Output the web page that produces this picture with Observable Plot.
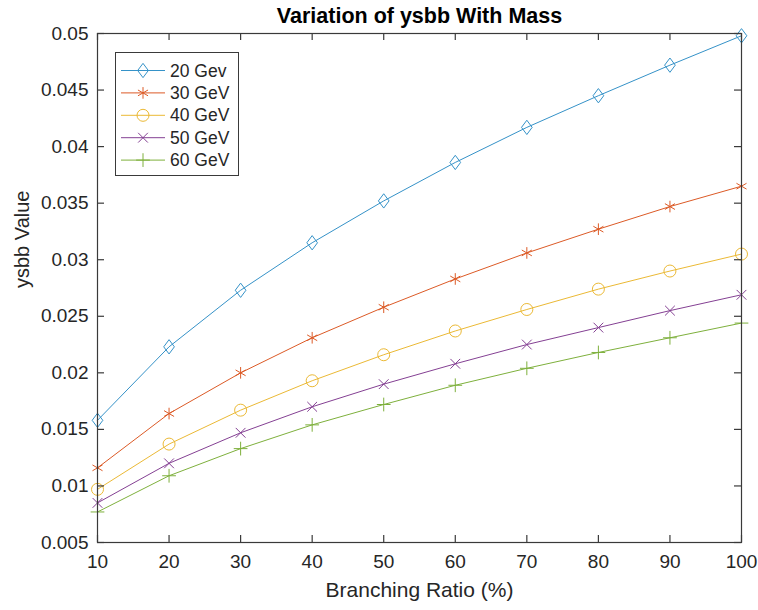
<!DOCTYPE html>
<html><head><meta charset="utf-8">
<script src="https://cdn.jsdelivr.net/npm/d3@7"></script>
<script src="https://cdn.jsdelivr.net/npm/@observablehq/plot@0.6"></script>
<style>
body{margin:0;background:#fff;}
#wrap{position:relative;width:758px;height:610px;font-family:"Liberation Sans",Arial,sans-serif;}
#legend{position:absolute;left:0;top:0;}
</style></head><body><div id="wrap"></div>
<script>
// ---- data ----
const branchingRatio = [10, 20, 30, 40, 50, 60, 70, 80, 90, 100];
const seriesNames = ["20 Gev", "30 GeV", "40 GeV", "50 GeV", "60 GeV"];
const ysbb20 = [0.0158, 0.0223, 0.0273, 0.0315, 0.0352, 0.0386, 0.0417, 0.0445, 0.0472, 0.0498];
const ysbb30 = [0.0116, 0.0164, 0.0200, 0.0231, 0.0258, 0.0283, 0.0306, 0.0327, 0.0347, 0.0365];
const ysbb40 = [0.0097, 0.0137, 0.0167, 0.0193, 0.0216, 0.0237, 0.0256, 0.0274, 0.0290, 0.0305];
const ysbb50 = [0.0085, 0.0120, 0.0147, 0.0170, 0.0190, 0.0208, 0.0225, 0.0240, 0.0255, 0.0269];
const ysbb60 = [0.0077, 0.0109, 0.0133, 0.0154, 0.0172, 0.0189, 0.0204, 0.0218, 0.0231, 0.0244];
const xTicks = [10, 20, 30, 40, 50, 60, 70, 80, 90, 100];
const yTicks = [0.005, 0.01, 0.015, 0.02, 0.025, 0.03, 0.035, 0.04, 0.045, 0.05];
const titleText = "Variation of ysbb With Mass";
const xLabel = "Branching Ratio (%)";
const yLabel = "ysbb Value";

// ---- style ----
const colors = ["#3592c8", "#dc5a26", "#ebb935", "#844093", "#7eb03c"];
const diamondSym = {
  draw(ctx, size) {
    const r = Math.sqrt(size / Math.PI);
    const w = r * 0.82, h = r * 1.1;
    ctx.moveTo(0, -h); ctx.lineTo(w, 0); ctx.lineTo(0, h); ctx.lineTo(-w, 0); ctx.closePath();
  }
};
const symbols = [diamondSym, "asterisk", "circle", "times", "plus"];
const symR = [6.5, 5.5, 6, 4.5, 4.5];
const allSeries = [ysbb20, ysbb30, ysbb40, ysbb50, ysbb60];

const W = 758, H = 610, mL = 97, mR = 17, mT = 33, mB = 68;
const pW = W - mL - mR, pH = H - mT - mB;
const tickLen = 7;
const font = "Liberation Sans, Arial, sans-serif";

const marks = [];
allSeries.forEach((vals, i) => {
  const data = branchingRatio.map((x, j) => ({x, y: vals[j]}));
  marks.push(Plot.line(data, {x: "x", y: "y", stroke: colors[i], strokeWidth: 1}));
  marks.push(Plot.dot(data, {x: "x", y: "y", stroke: colors[i], fill: "none", symbol: symbols[i], r: symR[i], strokeWidth: 1}));
});

const chart = Plot.plot({
  width: W, height: H,
  marginLeft: mL, marginRight: mR, marginTop: mT, marginBottom: mB,
  style: {fontFamily: font, background: "#fff", color: "#262626"},
  x: {domain: [10, 100], label: null},
  y: {domain: [0.005, 0.05], label: null},
  marks: [
    ...marks,
    Plot.frame({stroke: "#3a3a3a", strokeWidth: 1.2}),
    Plot.tickX(xTicks, {x: d => d, insetTop: pH - tickLen, stroke: "#3a3a3a", strokeWidth: 1.2}),
    Plot.tickX(xTicks, {x: d => d, insetBottom: pH - tickLen, stroke: "#3a3a3a", strokeWidth: 1.2}),
    Plot.tickY(yTicks, {y: d => d, insetRight: pW - tickLen, stroke: "#3a3a3a", strokeWidth: 1.2}),
    Plot.tickY(yTicks, {y: d => d, insetLeft: pW - tickLen, stroke: "#3a3a3a", strokeWidth: 1.2}),
    Plot.axisX(xTicks, {tickSize: 0, tickPadding: 12, fontSize: 19, label: null, fill: "#262626"}),
    Plot.axisY(yTicks, {tickSize: 0, tickPadding: 9, fontSize: 19, label: null, fill: "#262626", tickFormat: d3.format("~g")}),
    Plot.text([xLabel], {frameAnchor: "bottom", dy: 48, fontSize: 21, fill: "#262626", lineAnchor: "middle"}),
    Plot.text([yLabel], {frameAnchor: "left", dx: -75, rotate: -90, fontSize: 20, fill: "#262626"}),
    Plot.text([titleText], {frameAnchor: "top", dy: -17, lineAnchor: "middle", fontSize: 21.5, fontWeight: "bold", fill: "#000"})
  ]
});

const wrap = document.getElementById("wrap");
wrap.appendChild(chart);

// ---- legend overlay ----
const lg = d3.select(wrap).append("svg").attr("id", "legend").attr("width", W).attr("height", H);
lg.append("rect").attr("x", 115.5).attr("y", 52.5).attr("width", 123).attr("height", 123)
  .attr("fill", "#fff").attr("stroke", "#3a3a3a").attr("stroke-width", 1);
const d3Sym = {asterisk: d3.symbolAsterisk, circle: d3.symbolCircle, times: d3.symbolTimes, plus: d3.symbolPlus};
seriesNames.forEach((name, i) => {
  const cy = 70.5 + i * 22.4;
  lg.append("line").attr("x1", 121).attr("x2", 165).attr("y1", cy).attr("y2", cy)
    .attr("stroke", colors[i]).attr("stroke-width", 1);
  const type = typeof symbols[i] === "string" ? d3Sym[symbols[i]] : symbols[i];
  lg.append("path").attr("d", d3.symbol(type, Math.PI * symR[i] * symR[i])())
    .attr("transform", `translate(143,${cy})`).attr("fill", "none").attr("stroke", colors[i]).attr("stroke-width", 1);
  lg.append("text").attr("x", 170).attr("y", cy).attr("dy", "0.35em")
    .attr("font-family", font).attr("font-size", 17.5).attr("fill", "#262626").text(name);
});
</script></body></html>
